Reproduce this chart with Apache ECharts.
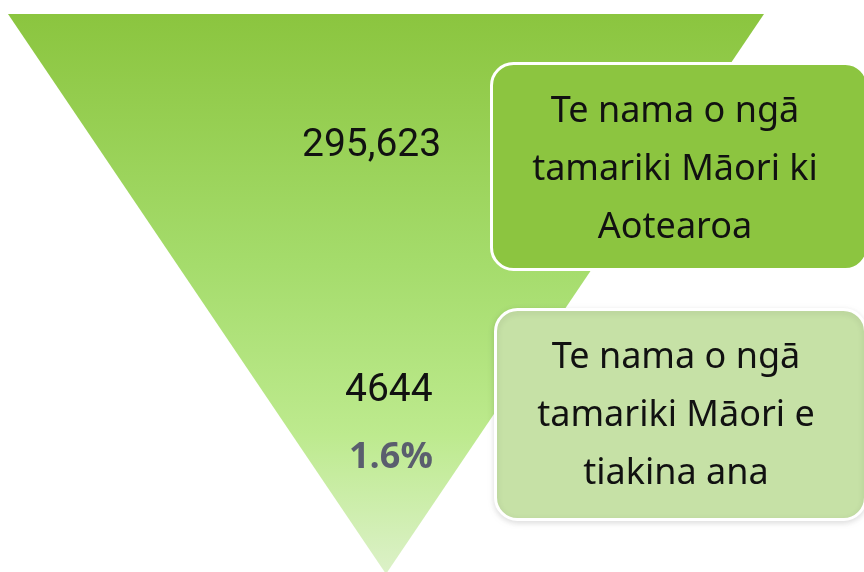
<!DOCTYPE html>
<html>
<head>
<meta charset="utf-8">
<script src="https://cdn.jsdelivr.net/npm/echarts@6/dist/echarts.min.js"></script>
<style>
  html, body { margin: 0; padding: 0; background: #fff; }
  #main { width: 864px; height: 572px; }
</style>
</head>
<body>
<div id="main"></div>
<script>
// tamariki Māori: katoa, e tiakina ana
const counts = [295623, 4644]
const boxLabels = [
  'Te nama o ngā\ntamariki Māori ki\nAotearoa',
  'Te nama o ngā\ntamariki Māori e\ntiakina ana'
]
const boxColors = ['#8cc540', '#c6e1a6']

const share = (counts[1] / counts[0] * 100).toFixed(1) + '%'
const boxFont = '"Noto Sans"'

const chart = echarts.init(document.getElementById('main'))

// 右边的说明框
function box (i, x, y, w, h, cy) {
  return [{
    type: 'rect', left: x, top: y, z: 10,
    shape: { width: w, height: h, r: 22 },
    style: i === 1
      ? { fill: boxColors[i], stroke: '#fff', lineWidth: 3, shadowBlur: 6, shadowColor: 'rgba(0,0,0,0.12)', shadowOffsetY: 2 }
      : { fill: boxColors[i], stroke: '#fff', lineWidth: 3 }
  }, {
    type: 'text', x: x + w / 2 - 3, y: cy, z: 11,
    style: {
      text: boxLabels[i],
      font: '36px ' + boxFont,
      fill: '#111',
      lineHeight: 58,
      align: 'center',
      verticalAlign: 'middle'
    }
  }]
}

const option = {
  animation: false,
  series: [{
    type: 'funnel',
    left: 8,
    top: 14,
    width: 756,
    height: 560,
    min: 0,
    max: counts[0],
    sort: 'descending',
    gap: 0,
    z: 1,
    label: { show: false },
    labelLine: { show: false },
    itemStyle: {
      borderWidth: 0,
      color: new echarts.graphic.LinearGradient(0, 0, 0, 1, [
        { offset: 0, color: '#8bc53f' },
        { offset: 0.45, color: '#a5dc6c' },
        { offset: 0.75, color: '#bdea8e' },
        { offset: 1, color: '#dcf1c8' }
      ])
    },
    emphasis: { disabled: true },
    data: [{ name: 'katoa', value: counts[0] }]
  }],
  graphic: [
    {
      type: 'text', left: 302, top: 127, z: 10,
      style: { text: counts[0].toLocaleString('en-US'), font: '39px Roboto', fill: '#111' }
    },
    {
      type: 'text', left: 345, top: 372, z: 10,
      style: { text: String(counts[1]), font: '39px Roboto', fill: '#111' }
    },
    {
      type: 'text', left: 349, top: 440, z: 10,
      style: { text: share, font: 'bold 36px "Open Sans"', fill: '#5a5e6e' }
    }
  ].concat(box(0, 490, 62, 376, 206, 170), box(1, 494, 308, 370, 210, 416))
}

chart.setOption(option)
</script>
</body>
</html>
